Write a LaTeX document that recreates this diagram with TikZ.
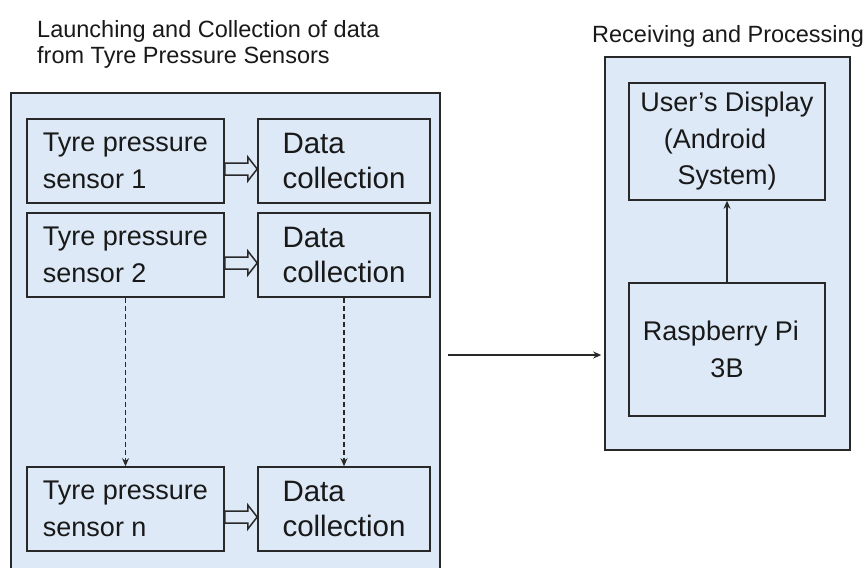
\documentclass[tikz,border=0pt]{standalone}
\usepackage{fontspec}
\setmainfont{Liberation Sans}
\usepackage{tikz}
\usetikzlibrary{arrows.meta,calc,positioning}

\definecolor{panelblue}{RGB}{221,233,246}
\definecolor{edgegray}{RGB}{40,40,40}
\definecolor{inkgray}{RGB}{25,25,25}

\tikzset{
  panel/.style={draw=edgegray,line width=1.6pt,fill=panelblue},
  block/.style={draw=edgegray,line width=1.6pt,align=left,text=inkgray,
    inner sep=0pt,font=\fontsize{27}{36.5}\selectfont},
  sensorbox/.style={block,minimum width=197pt,minimum height=84pt},
  collectbox/.style={block,minimum width=172pt,minimum height=84pt,
    font=\fontsize{29.5}{35.5}\selectfont},
  piebox/.style={block,align=center,minimum width=196pt},
  heading/.style={align=left,inner sep=0pt,text=inkgray,
    font=\fontsize{23.5}{26}\selectfont},
  flow/.style={draw=edgegray,line width=1.3pt,-{Stealth[length=8pt,width=7pt]}},
  dashflow/.style={flow,dash pattern=on 5pt off 3pt},
  blockarrow/.style={draw=edgegray,line width=1.5pt,fill=panelblue,line join=miter}
}

\begin{document}
\begin{tikzpicture}[x=1pt,y=-1pt]
  \useasboundingbox (0,0) rectangle (866,567);

  % panels
  \node[panel,minimum width=429pt,minimum height=483pt] (launch) at (225.5,334.5) {};
  \node[panel,minimum width=245pt,minimum height=393pt] (recv) at (727.5,253.5) {};

  \node[heading,anchor=north west] (launchtitle) at (37,20) {Launching and Collection of data\\from Tyre Pressure Sensors};
  \node[heading,anchor=base west] (recvtitle) at (592,43) {Receiving and Processing};

  % sensors and data collection
  \node[sensorbox] (s1) at (125.5,161) {Tyre pressure\\sensor 1};
  \node[sensorbox] (s2) at (125.5,255) {Tyre pressure\\sensor 2};
  \node[sensorbox] (sn) at (125.5,509) {Tyre pressure\\sensor n};
  \node[collectbox] (d1) at (344,161) {Data\\collection};
  \node[collectbox] (d2) at (344,255) {Data\\collection};
  \node[collectbox] (dn) at (344,509) {Data\\collection};

  \foreach \r in {1,2,n}
    \draw[blockarrow] ($(s\r.east)+(0,2)$) -- ++(23,0) -- ++(0,-6)
      -- ($(d\r.west)+(0,8)$) -- ($(s\r.east)+(23,20)$) -- ++(0,-6)
      -- ($(s\r.east)+(0,14)$) -- cycle;

  \draw[dashflow] (s2) -- (sn);
  \draw[dashflow] (d2) -- (dn);

  % receiving side
  \node[piebox,minimum height=117pt] (disp) at (727,141.5) {User's Display\\\hbox{(Android\kern24pt}\\System)};
  \node[piebox,minimum height=133pt] (rpi) at (727,349.5) {\hbox{Raspberry Pi\kern12pt}\\3B};

  \draw[flow] (rpi) -- (disp);
  \draw[flow,shorten <=7pt,shorten >=3pt] ([yshift=-5.5pt]launch.east |- rpi.center) -- ([yshift=-5.5pt]recv.west |- rpi.center);
\end{tikzpicture}
\end{document}
